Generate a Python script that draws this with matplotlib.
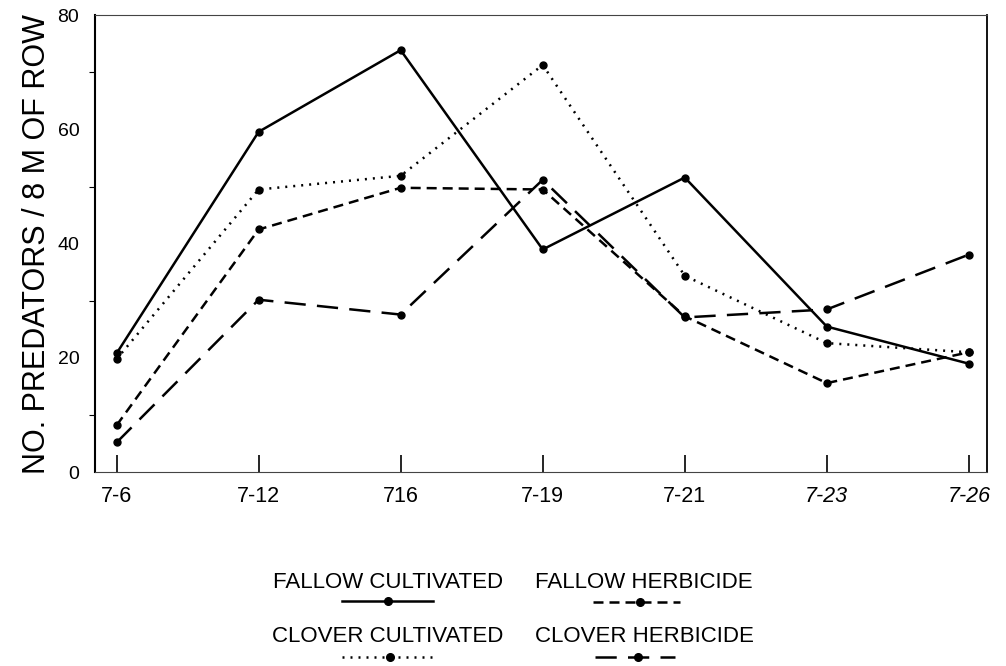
import numpy as np
import matplotlib.pyplot as plt
from matplotlib.lines import Line2D

plt.rcParams['font.family'] = ['Liberation Sans', 'DejaVu Sans']

dates = ['7-6', '7-12', '716', '7-19', '7-21', '7-23', '7-26']
fallow_cult = [20.8, 59.6, 73.9, 39.0, 51.6, 25.5, 19.0]
clover_cult = [19.8, 49.5, 51.9, 71.3, 34.4, 22.6, 21.0]
fallow_herb = [8.2, 42.5, 49.8, 49.5, 27.3, 15.6, 21.0]
clover_herb = [5.2, 30.2, 27.6, 51.2, 27.1, 28.5, 38.1]

styles = {
    'FALLOW CULTIVATED': (fallow_cult, '-'),
    'CLOVER CULTIVATED': (clover_cult, (0, (0.8, 2.4))),
    'FALLOW HERBICIDE': (fallow_herb, (0, (4, 2.4))),
    'CLOVER HERBICIDE': (clover_herb, (0, (8.5, 4.5))),
}

fig = plt.figure(figsize=(10.06, 6.66), dpi=100)
ax = fig.add_axes([0.094, 0.291, 0.887, 0.686])
x = np.arange(len(dates))

for name, (vals, ls) in styles.items():
    ax.plot(x, vals, color='black', linestyle=ls, linewidth=1.8,
            marker='o', markersize=5, markerfacecolor='black',
            markeredgecolor='black')

ax.set_xlim(-0.155, 6.127)
ax.set_ylim(0, 80)
ax.set_xticks(x)
ax.set_xticklabels(dates, fontsize=15.5)
for lab in ax.get_xticklabels()[5:]:
    lab.set_style('italic')
ax.set_yticks([0, 20, 40, 60, 80])
ax.set_yticks([10, 30, 50, 70], minor=True)
ax.tick_params(axis='x', direction='in', length=12, width=1.2, pad=10)
ax.tick_params(axis='y', which='major', length=0, labelsize=14, pad=11)
ax.tick_params(axis='y', which='minor', length=4, width=0.8)
ax.set_ylabel('NO. PREDATORS / 8 M OF ROW', fontsize=22, labelpad=4)

ax.spines['top'].set_linewidth(0.8)
ax.spines['top'].set_color('#444444')
ax.spines['bottom'].set_linewidth(0.8)
ax.spines['bottom'].set_color('#444444')
ax.spines['left'].set_linewidth(1.5)
ax.spines['right'].set_linewidth(1.3)

# legend drawn below the plot: label with sample line under it
# (text centre x, text y, line y, line start, line end, dot x) in pixels
legend_pos = {
    'FALLOW CULTIVATED': (388, 583, 601, 342, 433, 388),
    'FALLOW HERBICIDE': (644, 583, 602, 593, 680, 640),
    'CLOVER CULTIVATED': (388, 636, 657, 342, 432, 390),
    'CLOVER HERBICIDE': (644, 636, 657, 595, 675, 638),
}
W, H = 1006, 666
for name, (tx, ty, ly, x0, x1, xd) in legend_pos.items():
    ls = styles[name][1]
    fig.text(tx / W, 1 - ty / H, name, ha='center', va='center', fontsize=16)
    fy = 1 - ly / H
    fig.add_artist(Line2D([x0 / W, x1 / W], [fy, fy], color='black',
                          linestyle=ls, linewidth=1.8))
    fig.add_artist(Line2D([xd / W], [fy], color='black', marker='o',
                          markersize=5.5, linestyle='none'))

fig.savefig('out.png', dpi=100)
